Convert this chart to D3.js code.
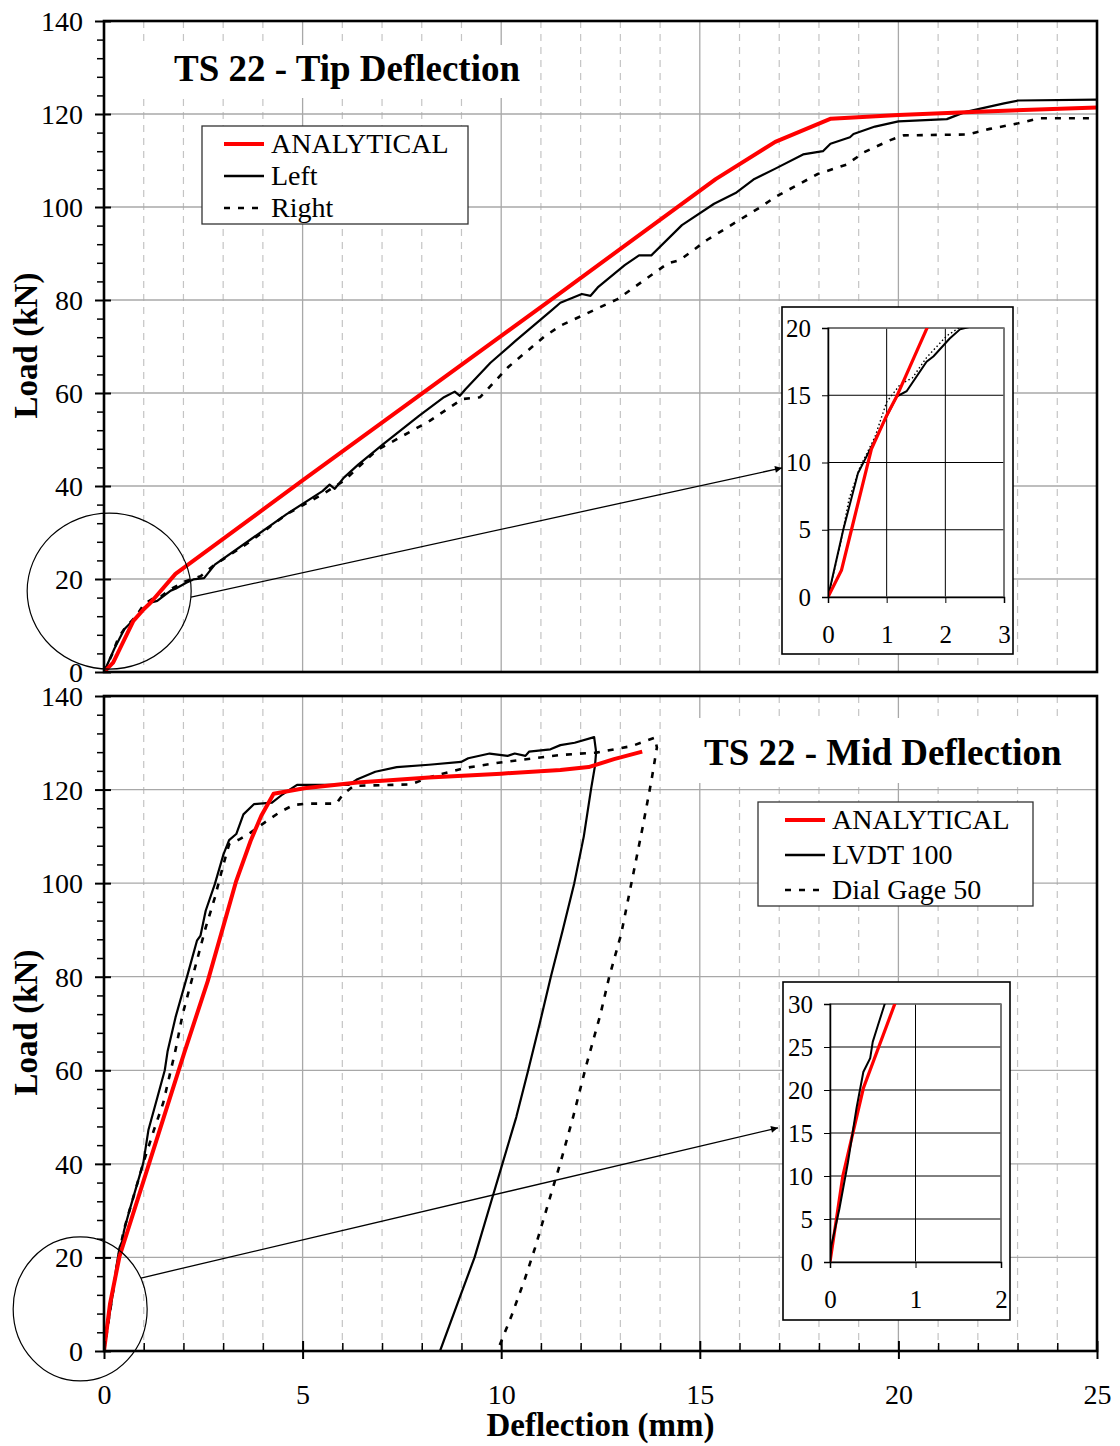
<!DOCTYPE html>
<html><head><meta charset="utf-8">
<script src="https://cdn.jsdelivr.net/npm/d3@7"></script>
<style>
body{margin:0;background:#fff}
svg{display:block}
text{font-family:"Liberation Serif","Times New Roman",serif;fill:#000}
</style></head>
<body><svg id="c" width="1120" height="1446"></svg>
<script>
// ---------- DATA (deflection mm, load kN) ----------
const xTicks = [0,5,10,15,20,25];
const yTicks = [0,20,40,60,80,100,120,140];
const insetTopXTicks = [0,1,2,3];
const insetTopYTicks = [0,5,10,15,20];
const insetBotXTicks = [0,1,2];
const insetBotYTicks = [0,5,10,15,20,25,30];

const tipTitle = "TS 22 - Tip Deflection";
const midTitle = "TS 22 - Mid Deflection";
const tipLegend = ["ANALYTICAL","Left","Right"];
const midLegend = ["ANALYTICAL","LVDT 100","Dial Gage 50"];

const tipAnalytical = [[0,0],[0.23,2],[0.4,5],[0.74,11],[1.0,13.5],[1.17,14.9],[1.8,21.1],[5,41.2],[11.5,81.6],[15.4,106],[16.9,114],[18.3,119],[20,119.8],[22,120.5],[25,121.4]];
const tipLeft = [[0,0],[0.26,5],[0.51,9.2],[0.71,10.9],[1.17,14.9],[1.34,15.3],[1.68,17.5],[1.8,17.9],[2.07,19.2],[2.25,19.9],[2.52,20.2],[2.79,23.1],[3.69,28.5],[4.59,33.9],[5.5,38.9],[5.68,40.3],[5.81,39.4],[6.04,41.8],[6.4,44.6],[7.03,49],[7.93,55.1],[8.56,59.1],[8.83,60.3],[8.96,59.4],[9.1,60.8],[9.73,66.5],[10.36,71.2],[11.26,77.7],[11.49,79.4],[12.03,81.3],[12.25,80.9],[12.43,82.7],[13.11,87.5],[13.47,89.6],[13.78,89.6],[14.55,96.1],[15.36,100.7],[15.9,103],[16.35,105.9],[16.89,108.2],[17.6,111.3],[18.1,112],[18.29,113.6],[18.78,115],[18.87,115.7],[19.41,117.3],[20,118.4],[21.22,118.9],[21.67,120.4],[22.66,122.3],[23.02,122.9],[25,123.1]];
const tipRight = [[0,0],[0.2,3.7],[0.36,7.3],[0.54,9.6],[0.8,11.9],[1.0,14.5],[1.23,15.8],[1.44,16.3],[1.68,17.8],[2.02,19.4],[2.43,20.6],[2.79,23.1],[3.69,28.1],[4.59,33.9],[5.5,38.2],[6.04,41.1],[6.85,47.6],[8.2,54],[9.02,58.7],[9.47,59.1],[10.18,65.6],[11.08,72.1],[11.5,74.5],[12.93,80.2],[14.2,87.9],[14.5,88.6],[15.18,92.9],[16.53,100],[16.89,102.1],[17.97,107.1],[18.69,109.1],[19.14,111.8],[19.77,114.3],[20.13,115.4],[21.76,115.6],[22.3,116.8],[23.02,118],[23.56,119.1],[25,119.1]];

const midAnalytical = [[0,0],[0.15,10],[0.39,20.2],[1.17,41],[2.03,64],[2.61,79],[3.33,100.5],[3.69,109],[3.96,114.4],[4.27,119.1],[5.04,120.3],[6.38,121.5],[8.18,122.6],[10,123.4],[11.49,124.2],[12.2,124.8],[12.84,126.5],[13.55,128.1]];
const midLVDT = [[0,0],[0.016,1.9],[0.11,6.2],[0.21,11.6],[0.31,17.9],[0.35,20],[0.39,22.1],[0.47,23.7],[0.5,25.6],[0.56,27.5],[0.64,30],[0.99,40.2],[1.12,47.3],[1.35,54.4],[1.53,60],[1.6,64],[1.8,71.3],[2.11,80.6],[2.34,87.7],[2.43,88.8],[2.56,94.1],[2.79,99.8],[3.01,106.2],[3.15,109.2],[3.33,110.5],[3.51,114.7],[3.78,116.9],[4.23,117.2],[4.5,119],[4.86,121],[6.16,121],[6.38,122.2],[6.83,123.8],[7.37,124.8],[8.18,125.3],[8.99,125.9],[9.17,126.7],[9.71,127.7],[10.16,127.2],[10.34,127.7],[10.61,127.2],[10.7,128.1],[11.24,128.6],[11.49,129.5],[11.85,130],[12.34,131.2],[12.39,128],[12.36,125],[12.26,120],[12.08,110],[11.84,100],[11.55,90],[11.25,80],[10.97,70],[10.68,60],[10.38,50],[10.03,40],[9.75,32],[9.33,20],[8.98,12],[8.46,0]];
const midDial = [[0,0],[0.36,20],[0.5,25.9],[0.99,40.2],[1.26,47.3],[1.49,53],[1.8,64.3],[1.98,72],[2.25,80.6],[2.56,90.5],[2.79,96.9],[3.01,104.1],[3.15,108.3],[3.42,109.4],[3.69,110.8],[4.05,113],[4.41,115.1],[4.77,116.7],[5.13,117],[5.85,117],[6.02,119],[6.29,120.8],[7.73,121.1],[8.18,122.6],[9.08,124.6],[9.98,125.8],[11.49,127.4],[12.39,127.9],[13.29,129.3],[13.87,131.1],[13.92,129],[13.78,121.8],[13.56,111.9],[13.29,100.5],[13.02,89.1],[12.72,80],[12.5,72],[12.14,61],[11.81,50],[11.5,40.5],[11.2,32],[10.85,22],[10.6,15.5],[10.25,7.3],[9.96,1.2],[9.92,0]];

// ---------- LAYOUT ----------
const svg = d3.select("#c");
const X0 = 104, X1 = 1097;
const x = d3.scaleLinear().domain([0,25]).range([X0,X1]);
const yTop = d3.scaleLinear().domain([0,140]).range([672,21]);
const yBot = d3.scaleLinear().domain([0,140]).range([1351,696]);

const defs = svg.append("defs");
defs.append("marker").attr("id","arr").attr("viewBox","0 0 10 10").attr("refX",10).attr("refY",5)
  .attr("markerWidth",9).attr("markerHeight",7).attr("markerUnits","userSpaceOnUse").attr("orient","auto")
  .append("path").attr("d","M0,0 L10,5 L0,10 z").attr("fill","#000");

function clip(id, xs, ys){
  defs.append("clipPath").attr("id",id).append("rect")
    .attr("x",xs.range()[0]).attr("y",ys.range()[1])
    .attr("width",xs.range()[1]-xs.range()[0]).attr("height",ys.range()[0]-ys.range()[1]);
}

const styles = [
  {stroke:"#ff0000", w:4, dash:null},
  {stroke:"#000", w:2.2, dash:null},
  {stroke:"#000", w:2.6, dash:"6,8"}
];

function panel(y, id, series, title, titleBox, legendNames, legendBox, showXLabels){
  const g = svg.append("g");
  const [yb, yt] = y.range();
  const minor = d3.range(1,25).filter(v=>v%5!==0);
  g.selectAll(".mg").data(minor).join("line")
    .attr("x1",d=>x(d)).attr("x2",d=>x(d)).attr("y1",yt).attr("y2",yb)
    .attr("stroke","#c4c4c4").attr("stroke-width",1.2).attr("stroke-dasharray","7,6");
  g.selectAll(".vg").data([5,10,15,20]).join("line")
    .attr("x1",d=>x(d)).attr("x2",d=>x(d)).attr("y1",yt).attr("y2",yb)
    .attr("stroke","#a8a8a8").attr("stroke-width",1.3);
  g.selectAll(".hg").data(yTicks.slice(1,-1)).join("line")
    .attr("x1",X0).attr("x2",X1).attr("y1",d=>y(d)).attr("y2",d=>y(d))
    .attr("stroke","#a8a8a8").attr("stroke-width",1.3);
  g.append("rect").attr("x",titleBox[0]).attr("y",titleBox[1]).attr("width",titleBox[2]).attr("height",titleBox[3]).attr("fill","#fff");

  clip(id, x, y);
  const line = d3.line().x(d=>x(d[0])).y(d=>y(d[1]));
  const sg = g.append("g").attr("clip-path",`url(#${id})`);
  [1,2,0].forEach(i=>{
    sg.append("path").datum(series[i]).attr("d",line).attr("fill","none")
      .attr("stroke",styles[i].stroke).attr("stroke-width",styles[i].w)
      .attr("stroke-dasharray",styles[i].dash).attr("stroke-linejoin","round");
  });

  g.append("text").attr("x",titleBox[4]).attr("y",titleBox[5]).attr("font-size",37).attr("font-weight","bold").text(title);

  const [lx,ly,lw,lh,step,off] = legendBox;
  g.append("rect").attr("x",lx).attr("y",ly).attr("width",lw).attr("height",lh).attr("fill","#fff").attr("stroke","#333").attr("stroke-width",1.3);
  legendNames.forEach((n,i)=>{
    const yy = ly + 18 + i*step;
    g.append("line").attr("x1",lx+off).attr("x2",lx+off+40).attr("y1",yy).attr("y2",yy)
      .attr("stroke",styles[i].stroke).attr("stroke-width",i===0?4:2.4).attr("stroke-dasharray",styles[i].dash);
    g.append("text").attr("x",lx+off+47).attr("y",yy+9).attr("font-size",28).text(n);
  });

  const ax = g.append("g").attr("transform",`translate(${X0},0)`);
  ax.call(d3.axisLeft(y).tickValues(yTicks).tickSize(9).tickPadding(12).tickFormat(d3.format("d")));
  ax.select(".domain").remove();
  ax.selectAll(".tick line").attr("x1",7).attr("stroke-width",2);
  ax.selectAll(".tick text").attr("font-size",28).attr("dy","0.34em");
  const minorY = d3.range(4,140,4).filter(v=>v%20!==0);
  const ax2 = g.append("g").attr("transform",`translate(${X0},0)`);
  ax2.call(d3.axisLeft(y).tickValues(minorY).tickSize(7).tickFormat(""));
  ax2.select(".domain").remove();
  ax2.selectAll(".tick line").attr("stroke-width",1.5);

  if(showXLabels){
    const bx = g.append("g").attr("transform",`translate(0,${yb})`);
    bx.call(d3.axisBottom(x).tickValues(d3.range(1,25).filter(v=>v%5!==0)).tickSize(-8).tickFormat(""));
    bx.select(".domain").remove();
    bx.selectAll(".tick line").attr("stroke-width",1.5);
    const bx2 = g.append("g").attr("transform",`translate(0,${yb})`);
    bx2.call(d3.axisBottom(x).tickValues(xTicks).tickSize(8).tickPadding(25).tickFormat(d3.format("d")));
    bx2.select(".domain").remove();
    bx2.selectAll(".tick line").attr("y1",-10).attr("stroke-width",2);
    bx2.selectAll(".tick text").attr("font-size",28);
  }

  g.append("rect").attr("x",X0).attr("y",yt).attr("width",X1-X0).attr("height",yb-yt)
    .attr("fill","none").attr("stroke","#000").attr("stroke-width",2.6);

  const yc = (yt+yb)/2 - 1;
  g.append("text").attr("transform",`translate(37,${yc}) rotate(-90)`).attr("text-anchor","middle")
    .attr("font-size",33).attr("font-weight","bold").text("Load (kN)");
  return g;
}

panel(yTop,"cTop",[tipAnalytical,tipLeft,tipRight],tipTitle,[115,45,410,53,174,81],tipLegend,[202,126,266,98,32,22],false);
panel(yBot,"cBot",[midAnalytical,midLVDT,midDial],midTitle,[680,718,415,65,704,765],midLegend,[758,802,275,104,35,27],true);

svg.append("text").attr("x",x(12.5)).attr("y",1436).attr("text-anchor","middle").attr("font-size",33).attr("font-weight","bold").text("Deflection (mm)");

// ---------- INSETS ----------
function inset(box, xs, ys, xt, yt, series, showDial, id, insetStyles){
  svg.append("rect").attr("x",box[0]).attr("y",box[1]).attr("width",box[2]).attr("height",box[3])
    .attr("fill","#fff").attr("stroke","#000").attr("stroke-width",1.6);
  const [xa,xb] = xs.range(), [ya,yb] = ys.range();
  const g = svg.append("g");
  g.selectAll(".gx").data(xt.slice(1)).join("line").attr("x1",d=>xs(d)).attr("x2",d=>xs(d)).attr("y1",yb).attr("y2",ya).attr("stroke","#000").attr("stroke-width",1);
  g.selectAll(".gy").data(yt.slice(1)).join("line").attr("x1",xa).attr("x2",xb).attr("y1",d=>ys(d)).attr("y2",d=>ys(d)).attr("stroke","#000").attr("stroke-width",1);
  g.append("rect").attr("x",xa).attr("y",yb).attr("width",xb-xa).attr("height",ya-yb).attr("fill","none").attr("stroke","#777").attr("stroke-width",1.5);
  clip(id, xs, ys);
  const line = d3.line().x(d=>xs(d[0])).y(d=>ys(d[1]));
  const sg = g.append("g").attr("clip-path",`url(#${id})`);
  const order = showDial ? [2,1,0] : [0,1];
  order.forEach(i=>{
    sg.append("path").datum(series[i]).attr("d",line).attr("fill","none")
      .attr("stroke",insetStyles[i].stroke).attr("stroke-width",insetStyles[i].w)
      .attr("stroke-dasharray",insetStyles[i].dash);
  });
  const ax = g.append("g").attr("transform",`translate(${xa},0)`);
  ax.call(d3.axisLeft(ys).tickValues(yt).tickSize(6).tickPadding(11).tickFormat(d3.format("d")));
  ax.selectAll(".tick text").attr("font-size",25);
  ax.select(".domain").attr("stroke-width",1.5);
  const bx = g.append("g").attr("transform",`translate(0,${ya})`);
  bx.call(d3.axisBottom(xs).tickValues(xt).tickSize(6).tickPadding(22).tickFormat(d3.format("d")));
  bx.selectAll(".tick text").attr("font-size",25);
  bx.select(".domain").attr("stroke-width",1.5);
}
const itx = d3.scaleLinear().domain([0,3]).range([828,1004]);
const ity = d3.scaleLinear().domain([0,20]).range([597,328]);
inset([782,307,231,347], itx, ity, insetTopXTicks, insetTopYTicks, [tipAnalytical,tipLeft,tipRight], true, "ciT",
  [{stroke:"#ff0000",w:3.2,dash:null},{stroke:"#000",w:2,dash:null},{stroke:"#000",w:1.4,dash:"1.5,2.5"}]);
const ibx = d3.scaleLinear().domain([0,2]).range([830,1001]);
const iby = d3.scaleLinear().domain([0,30]).range([1262,1004]);
inset([783,982,227,338], ibx, iby, insetBotXTicks, insetBotYTicks, [midAnalytical,midLVDT,midDial], false, "ciB",
  [{stroke:"#ff0000",w:3.2,dash:null},{stroke:"#000",w:2,dash:null},{stroke:"#000",w:1.4,dash:"1.5,2.5"}]);

// ---------- ANNOTATIONS (circle + arrow) ----------
svg.append("ellipse").attr("cx",x(0.13)).attr("cy",yTop(17.4)).attr("rx",82).attr("ry",78)
  .attr("fill","none").attr("stroke","#000").attr("stroke-width",1.2);
svg.append("line").attr("x1",x(2.19)).attr("y1",yTop(16.1)).attr("x2",782).attr("y2",ity(9.6))
  .attr("stroke","#000").attr("stroke-width",1.3).attr("marker-end","url(#arr)");
svg.append("ellipse").attr("cx",x(-0.6)).attr("cy",yBot(9)).attr("rx",67).attr("ry",72)
  .attr("fill","none").attr("stroke","#000").attr("stroke-width",1.2);
svg.append("line").attr("x1",x(0.93)).attr("y1",yBot(15.6)).attr("x2",778).attr("y2",iby(15.6))
  .attr("stroke","#000").attr("stroke-width",1.3).attr("marker-end","url(#arr)");
</script></body></html>
